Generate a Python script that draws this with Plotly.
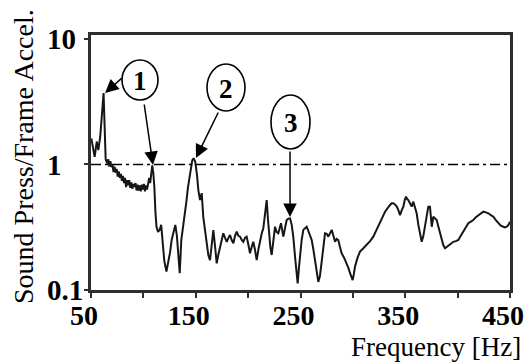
import plotly.graph_objects as go

# ---------------- data ----------------
FREQ_HZ = [
    50.3, 52.0, 53.5, 55.5, 57.0, 58.8, 60.5, 62.0, 63.0, 64.0, 65.5,
    66.5, 67.5, 68.5, 69.5, 70.5, 71.5, 72.5, 73.5, 74.5, 75.5, 76.5, 77.5,
    78.5, 79.5, 80.5, 81.5, 82.5, 83.5, 84.5, 85.5, 86.5, 87.5, 88.5, 89.5,
    90.5, 91.5, 92.5, 93.5, 94.5, 95.5, 96.5, 97.5, 98.5, 99.5, 100.5, 101.5,
    102.5, 103.5, 104.5, 105.5, 106.5, 107.5, 108.5, 109.5, 110.5, 111.5,
    112.5, 114.0, 115.5, 117.0, 118.5, 120.0, 122.0, 124.0, 125.5, 127.0,
    128.5, 130.5, 132.0, 133.5, 134.7, 136.2, 138.0, 139.5, 141.0, 142.6,
    144.5, 146.7, 148.0, 149.5, 151.2, 152.5, 154.1, 155.7, 157.2, 159.0,
    160.5, 162.0, 163.6, 165.2, 166.8, 168.5, 170.0, 171.5, 173.2, 174.8,
    176.3, 178.0, 179.6, 181.2, 182.7, 184.3, 185.9, 187.5, 189.1, 190.7,
    192.3, 193.9, 195.4, 197.0, 198.6, 200.2, 201.8, 203.4, 204.9, 206.5,
    208.2, 209.8, 211.3, 212.9, 214.5, 216.1, 217.7, 219.0, 219.9, 221.2,
    222.5, 224.1, 225.7, 227.2, 228.8, 230.1, 231.4, 232.5, 233.6, 235.2,
    236.8, 238.4, 240.0, 241.6, 243.1, 244.8, 246.0, 247.3, 248.5, 249.5,
    251.1, 252.7, 254.3, 255.9, 257.2, 258.4, 259.6, 260.7, 262.3, 263.9,
    265.5, 267.0, 268.6, 270.3, 271.9, 273.4, 275.0, 276.6, 278.2, 279.8,
    281.4, 283.0, 284.5, 286.1, 287.7, 289.3, 291.7, 294.1, 295.7, 297.3,
    298.6, 299.8, 301.0, 302.0, 304.4, 306.8, 310.0, 313.2, 316.4, 319.5,
    322.7, 325.9, 328.3, 330.7, 333.1, 335.5, 337.0, 338.6, 340.2, 341.9,
    343.5, 345.0, 346.6, 348.2, 349.5, 350.7, 351.8, 352.9, 354.5, 356.2,
    357.7, 359.3, 360.9, 362.5, 364.1, 365.7, 367.3, 368.9, 370.5, 372.0,
    373.6, 375.3, 376.8, 378.4, 380.0, 381.6, 383.2, 384.8, 386.3, 388.0,
    389.5, 391.1, 393.5, 395.9, 398.3, 400.7, 403.0, 405.4, 407.8, 410.2,
    412.6, 415.0, 417.4, 419.8, 422.1, 424.5, 426.9, 429.3, 431.7, 434.1,
    436.5, 438.9, 441.2, 443.6, 445.2, 446.9, 448.5, 450.0,
]
RATIO = [
    1.61, 1.35, 1.15, 1.52, 1.30, 1.66, 2.60, 3.70, 2.00, 1.10, 1.02,
    1.10, 0.96, 1.06, 0.95, 0.99, 0.87, 0.96, 0.86, 0.92, 0.80, 0.88, 0.78,
    0.84, 0.74, 0.81, 0.71, 0.78, 0.66, 0.75, 0.68, 0.75, 0.65, 0.72, 0.64,
    0.70, 0.66, 0.71, 0.62, 0.69, 0.62, 0.68, 0.61, 0.69, 0.63, 0.70, 0.61,
    0.68, 0.63, 0.71, 0.78, 0.71, 0.88, 0.98, 0.85, 0.66, 0.42,
    0.32, 0.29, 0.30, 0.33, 0.24, 0.17, 0.14, 0.17, 0.20, 0.25,
    0.29, 0.33, 0.27, 0.19, 0.136, 0.25, 0.32, 0.38, 0.50, 0.66,
    0.82, 1.08, 1.12, 1.05, 0.82, 0.62, 0.52, 0.59, 0.38, 0.28,
    0.22, 0.19, 0.173, 0.22, 0.30, 0.22, 0.163, 0.19, 0.221, 0.26,
    0.283, 0.26, 0.242, 0.26, 0.274, 0.25, 0.236, 0.27, 0.291, 0.27,
    0.266, 0.25, 0.242, 0.26, 0.266, 0.23, 0.196, 0.22, 0.242, 0.21,
    0.173, 0.21, 0.250, 0.28, 0.310, 0.42, 0.520, 0.36, 0.283, 0.22,
    0.190, 0.26, 0.319, 0.29, 0.283, 0.31, 0.340, 0.30, 0.266, 0.31,
    0.361, 0.37, 0.372, 0.33, 0.266, 0.184, 0.14, 0.113, 0.15, 0.196,
    0.25, 0.301, 0.31, 0.319, 0.30, 0.283, 0.27, 0.250, 0.21, 0.173,
    0.14, 0.116, 0.13, 0.163, 0.22, 0.283, 0.28, 0.266, 0.28, 0.301,
    0.27, 0.242, 0.255, 0.250, 0.22, 0.196, 0.18, 0.163, 0.15, 0.136,
    0.128, 0.120, 0.135, 0.153, 0.18, 0.202, 0.215, 0.228, 0.245, 0.266,
    0.30, 0.340, 0.38, 0.420, 0.45, 0.475, 0.49, 0.490, 0.48, 0.461,
    0.43, 0.395, 0.43, 0.461, 0.52, 0.553, 0.53, 0.520, 0.49, 0.461,
    0.505, 0.46, 0.408, 0.33, 0.283, 0.242, 0.27, 0.319, 0.40, 0.461,
    0.461, 0.319, 0.383, 0.37, 0.361, 0.32, 0.283, 0.25, 0.228, 0.215,
    0.22, 0.228, 0.235, 0.242, 0.245, 0.250, 0.27, 0.291, 0.315, 0.340,
    0.35, 0.361, 0.38, 0.395, 0.41, 0.420, 0.415, 0.408, 0.395, 0.383,
    0.36, 0.340, 0.325, 0.319, 0.315, 0.319, 0.33, 0.350,
]
REF_LEVEL = 1.0
X_RANGE = [50, 450]
X_TICK_VALUES = [50, 100, 150, 200, 250, 300, 350, 400, 450]
X_TICK_LABELS = ["50", "", "150", "", "250", "", "350", "", "450"]
Y_TICK_VALUES = [0.1, 1, 10]
Y_TICK_LABELS = ["0.1", "1", "10"]
X_TITLE = "Frequency [Hz]"
Y_TITLE = "Sound Press/Frame Accel."
CALLOUT_LABELS = ["1", "2", "3"]

# ---------------- figure ----------------
W, H = 524, 364
ML, MR, MT, MB = 0, 14, 35, 74
PW = W - ML - MR          # paper width in px
PH = H - MT - MB          # paper height in px
PLOT_LEFT = 91            # px where the plotting area starts

def px(xp):  # paper fraction from pixel x
    return (xp - ML) / PW

def py(yp):  # paper fraction from pixel y
    return (MT + PH - yp) / PH

SERIF = "Times New Roman, Liberation Serif, Tinos, DejaVu Serif, serif"
FRAME = "#2e2e2e"
YR = [-1, 1.03]

fig = go.Figure()
fig.add_trace(go.Scatter(
    x=FREQ_HZ, y=RATIO, mode="lines",
    line=dict(color="#161616", width=2), hoverinfo="skip", showlegend=False,
))
fig.add_trace(go.Scatter(
    x=X_RANGE, y=[REF_LEVEL, REF_LEVEL], mode="lines", yaxis="y2",
    line=dict(color="black", width=1.5, dash="10px,4px,3px,4px"),
    hoverinfo="skip", showlegend=False,
))

fig.update_layout(
    width=W, height=H, template="none",
    font=dict(family=SERIF),
    margin=dict(l=ML, r=MR, t=MT, b=MB, pad=0),
    paper_bgcolor="white", plot_bgcolor="white", showlegend=False,
    xaxis=dict(
        domain=[px(PLOT_LEFT), 1], range=X_RANGE, anchor="y",
        showgrid=False, zeroline=False, automargin=False,
        showline=True, linecolor=FRAME, linewidth=2.5, mirror=True,
        ticks="outside", ticklen=5, tickwidth=2, tickcolor=FRAME,
        tickvals=X_TICK_VALUES, ticktext=X_TICK_LABELS,
        tickfont=dict(family=SERIF, size=28, color="black", weight="bold"),
        ticklabelstandoff=-6, ticklabelshift=-7, ticklabeloverflow="allow",
    ),
    yaxis=dict(
        type="log", range=YR, domain=[0, 1], anchor="x",
        showgrid=False, zeroline=False, automargin=False,
        showline=True, linecolor=FRAME, linewidth=2.5, mirror=True,
        ticks="outside", ticklen=4, tickwidth=2, tickcolor=FRAME,
        tickvals=Y_TICK_VALUES, showticklabels=False,
    ),
    yaxis2=dict(
        type="log", range=YR, overlaying="y", side="right",
        anchor="free", position=px(46),
        showgrid=False, zeroline=False, showline=False, automargin=False,
        ticks="", tickvals=Y_TICK_VALUES, ticktext=Y_TICK_LABELS,
        tickfont=dict(family=SERIF, size=29, color="black", weight="bold"),
    ),
)

# axis titles
fig.add_annotation(
    text=X_TITLE, xref="paper", yref="paper", x=px(523), y=py(347),
    xanchor="right", yanchor="middle", showarrow=False,
    font=dict(family=SERIF, size=27, color="black"),
)
fig.add_annotation(
    text=Y_TITLE, xref="paper", yref="paper", x=px(23), y=py(157),
    xanchor="center", yanchor="middle", textangle=-90, showarrow=False,
    font=dict(family=SERIF, size=28, color="black"),
)

# callout ellipses with numbers
ellipses = [  # (left, right, top, bottom) in px
    (122, 158, 60, 100),
    (207, 245, 64, 111),
    (271, 310, 95, 149),
]
for (l, r, t, b), lab in zip(ellipses, CALLOUT_LABELS):
    fig.add_shape(type="circle", xref="paper", yref="paper",
                  x0=px(l), x1=px(r), y0=py(b), y1=py(t),
                  line=dict(color="black", width=1.6), fillcolor="white")
    fig.add_annotation(text=lab, xref="paper", yref="paper",
                       x=px((l + r) / 2), y=py((t + b) / 2 + 1),
                       xanchor="center", yanchor="middle", showarrow=False,
                       font=dict(family=SERIF, size=27, color="black", weight="bold"))

# arrows: tip in data coords (freq, log10 value), tail offset in px
arrows = [
    (63.4, 0.568, 18, -16),
    (109.2, -0.005, -9, -62),
    (150.2, 0.051, 23, -47),
    (240.0, -0.419, 0, -67),
]
for x, y, ax, ay in arrows:
    fig.add_annotation(x=x, y=y, xref="x", yref="y", text="",
                       showarrow=True, ax=ax, ay=ay, axref="pixel", ayref="pixel",
                       arrowhead=2, arrowsize=1.8, arrowwidth=1.5,
                       arrowcolor="black", standoff=0)

fig.write_html("out.html")
